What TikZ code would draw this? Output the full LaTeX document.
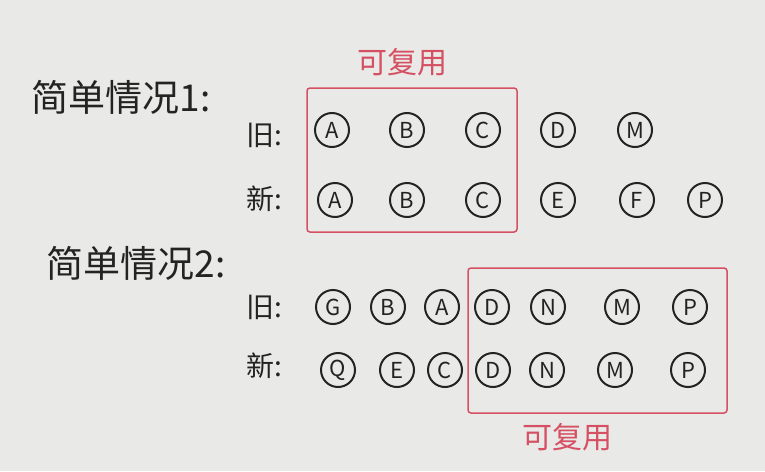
\documentclass[tikz,border=0pt]{standalone}
\usepackage{fontspec}
\newfontfamily\cjk{Noto Sans CJK SC}
\usetikzlibrary{positioning}
\definecolor{paper}{RGB}{233,233,231}
\definecolor{pen}{RGB}{35,35,35}
\definecolor{redpen}{RGB}{214,80,100}
\tikzset{
  item/.style={circle, draw=pen, line width=2pt, minimum size=34pt, inner sep=0pt, text=pen, font=\cjk\fontsize{22}{22}\selectfont},
  caseTitle/.style={anchor=west, text=pen, font=\cjk\fontsize{37}{39}\selectfont},
  rowLabel/.style={anchor=east, text=pen, font=\cjk\fontsize{28}{30}\selectfont},
  reuseBox/.style={draw=redpen, line width=1.5pt, rounded corners=3pt},
  reuseText/.style={text=redpen, font=\cjk\fontsize{30}{32}\selectfont}
}

\begin{document}
\begin{tikzpicture}[x=1pt,y=-1pt]

      \fill[paper] (0,0) rectangle (765,471);
      \useasboundingbox (0,0) rectangle (765,471);

      % case 1
      \node[caseTitle] (title1) at (28,97) {简单情况1:};
      \node[rowLabel] (old1) at (286,135) {旧:};
      \node[rowLabel] (new1) at (286,199) {新:};

      \node[item] (a1) at (332,130) {A};
      \node[item] (b1) at (407,130) {B};
      \node[item] (c1) at (483,130) {C};
      \node[item] (d1) at (558,130) {D};
      \node[item] (m1) at (635,130) {M};

      \node[item] (a2) at (335,200) {A};
      \node[item] (b2) at (407,200) {B};
      \node[item] (c2) at (483,200) {C};
      \node[item] (e2) at (558,200) {E};
      \node[item] (f2) at (637,200) {F};
      \node[item] (p2) at (705,200) {P};

      \draw[reuseBox] (307,88) rectangle (517,232);
      \node[reuseText] (reuse1) at (402,62) {可复用};

      % case 2
      \node[caseTitle] (title2) at (43,263) {简单情况2:};
      \node[rowLabel] (old2) at (286,307) {旧:};
      \node[rowLabel] (new2) at (286,366) {新:};

      \node[item] (g3) at (333,307) {G};
      \node[item] (b3) at (388,307) {B};
      \node[item] (a3) at (442,307) {A};
      \node[item] (d3) at (492,307) {D};
      \node[item] (n3) at (548,307) {N};
      \node[item] (m3) at (622,307) {M};
      \node[item] (p3) at (690,307) {P};

      \node[item] (q4) at (338,370) {Q};
      \node[item] (e4) at (397,370) {E};
      \node[item] (c4) at (445,370) {C};
      \node[item] (d4) at (493,370) {D};
      \node[item] (n4) at (547,370) {N};
      \node[item] (m4) at (615,370) {M};
      \node[item] (p4) at (688,370) {P};

      \draw[reuseBox] (468,268) rectangle (727,413);
      \node[reuseText] (reuse2) at (567,437) {可复用};

\end{tikzpicture}
\end{document}
